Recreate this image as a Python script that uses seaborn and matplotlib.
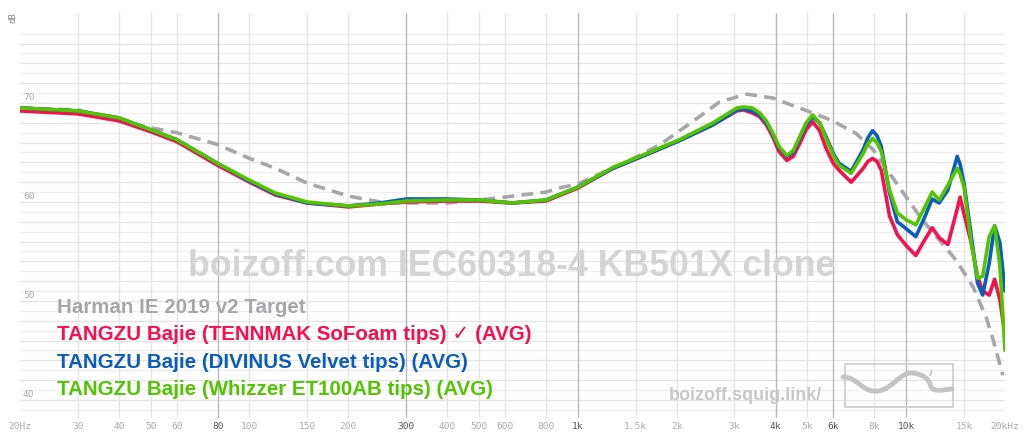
import numpy as np
import pandas as pd
import matplotlib
matplotlib.use("Agg")
import matplotlib.pyplot as plt
import seaborn as sns
from matplotlib.path import Path
from matplotlib.patches import PathPatch, Rectangle
from matplotlib.ticker import NullLocator
import matplotlib.transforms as mtransforms

# ---------------- data ----------------
target_freq = [20, 30, 40, 50, 60, 80, 100, 120, 150, 200, 250, 300, 400, 500, 600, 800, 900,
               1000, 1090, 1440, 1780, 2210, 2700, 3270, 3920, 5190, 5970, 7050, 7920, 8900,
               10000, 11200, 12600, 14200, 16000, 17500, 18400, 19700]
target_db = [69.5, 69.3, 68.2, 67.5, 67.0, 65.8, 64.4, 63.4, 61.9, 60.6, 60.0, 59.9, 59.9, 60.2,
             60.5, 61.0, 61.5, 61.8, 62.4, 64.2, 65.8, 68.0, 70.1, 70.9, 70.5, 69.0, 68.2, 66.9,
             65.3, 62.9, 60.5, 58.2, 56.2, 54.1, 51.4, 48.4, 46.1, 42.5]

freq = [20, 30, 40, 50, 60, 80, 100, 120, 150, 200, 250, 300, 400, 500, 630, 800, 1000, 1280,
        1620, 2040, 2580, 3050, 3200, 3400, 3580, 3750, 3920, 4100, 4330, 4530, 4740, 4960,
        5190, 5450, 5720, 6000, 6250, 6800, 7400, 7650, 7900, 8150, 8400, 8900, 9400, 10000,
        10700, 11400, 12000, 12600, 13400, 14300, 14600, 15000, 15800, 16500, 17100, 17900,
        18600, 19300, 20000]

red_db = [69.2, 68.9, 68.2, 67.1, 66.1, 63.7, 62.0, 60.7, 59.9, 59.5, 59.8, 60.0, 60.1, 60.1,
          59.9, 60.1, 61.4, 63.4, 64.8, 66.2, 67.8, 69.2, 69.3, 69.0, 68.6, 67.8, 66.6, 65.1,
          64.2, 64.6, 65.9, 67.3, 68.1, 67.2, 65.3, 63.9, 63.2, 62.0, 63.4, 64.1, 64.4, 64.1,
          63.2, 58.6, 56.7, 55.6, 54.6, 56.2, 57.4, 56.4, 55.7, 59.3, 60.5, 58.8, 55.8, 52.5,
          51.0, 50.6, 52.2, 50.1, 46.5]

blue_db = [69.5, 69.2, 68.5, 67.3, 66.3, 63.9, 62.1, 60.8, 59.9, 59.6, 59.9, 60.3, 60.3, 60.2,
           59.9, 60.2, 61.5, 63.4, 64.8, 66.2, 67.8, 69.3, 69.4, 69.2, 68.8, 68.0, 66.9, 65.5,
           64.6, 65.0, 66.4, 67.8, 68.6, 68.0, 66.5, 64.9, 63.9, 63.1, 65.3, 66.5, 67.2, 66.7,
           65.6, 60.9, 58.0, 57.3, 56.5, 58.5, 60.3, 59.9, 61.2, 64.6, 63.8, 61.9, 56.5, 51.8,
           50.6, 53.8, 57.6, 55.9, 51.0]

green_db = [69.5, 69.2, 68.5, 67.3, 66.3, 63.9, 62.2, 60.9, 60.0, 59.6, 59.8, 60.1, 60.2, 60.2,
            59.9, 60.2, 61.5, 63.5, 64.9, 66.3, 68.0, 69.5, 69.6, 69.5, 69.0, 68.2, 67.0, 65.6,
            64.7, 65.2, 66.6, 68.0, 68.8, 68.0, 66.3, 64.7, 63.7, 62.9, 64.9, 65.9, 66.4, 66.0,
            65.1, 61.2, 58.9, 58.2, 57.7, 59.5, 61.0, 60.2, 61.7, 63.4, 62.8, 61.5, 55.8, 52.3,
            52.5, 56.5, 57.6, 53.5, 45.0]

tick_freqs = [20, 30, 40, 50, 60, 80, 100, 150, 200, 300, 400, 500, 600, 800, 1000, 1500,
              2000, 3000, 4000, 5000, 6000, 8000, 10000, 15000, 20000]
tick_labels = ["20Hz", "30", "40", "50", "60", "80", "100", "150", "200", "300", "400", "500",
               "600", "800", "1k", "1.5k", "2k", "3k", "4k", "5k", "6k", "8k", "10k", "15k", "20kHz"]
strong_ticks = [80, 300, 1000, 4000, 6000, 10000]
y_labels = [40, 50, 60, 70]

legend_names = ["Harman IE 2019 v2 Target",
                "TANGZU Bajie (TENNMAK SoFoam tips) \u2713 (AVG)",
                "TANGZU Bajie (DIVINUS Velvet tips) (AVG)",
                "TANGZU Bajie (Whizzer ET100AB tips) (AVG)"]
colors = ["#a9a5ad", "#f5104f", "#0a5cbe", "#52c500"]

# ---------------- figure ----------------
sns.set_theme(style="white")
plt.rcParams["font.family"] = ["Liberation Sans", "DejaVu Sans"]

W, H = 1024, 443
fig = plt.figure(figsize=(W / 100, H / 100), dpi=100)
fig.patch.set_facecolor("white")
ax = fig.add_axes([20 / W, (H - 418) / H, 985 / W, 405 / H])
ax.set_facecolor("white")
ax.set_xscale("log")
ax.set_xlim(20, 20000)
ax.set_ylim(38.18, 79.09)
for s in ax.spines.values():
    s.set_visible(False)

# grid
for v in range(39, 78):
    ax.axhline(v, color="#e4e4e4" if v % 2 == 0 else "#efefef", lw=0.9, zorder=0)
for f in tick_freqs[1:-1]:
    ax.axvline(f, color="#b8b8b8" if f in strong_ticks else "#e4e4e4", lw=1.0, zorder=0)

# curves
df_t = pd.DataFrame({"f": target_freq, "db": target_db})
sns.lineplot(data=df_t, x="f", y="db", ax=ax, color=colors[0], lw=2.6,
             linestyle=(0, (3.3, 2.0)), zorder=2, estimator=None, sort=False)
for vals, c, z in [(red_db, colors[1], 3), (blue_db, colors[2], 4), (green_db, colors[3], 5)]:
    d = pd.DataFrame({"f": freq, "db": vals})
    sns.lineplot(data=d, x="f", y="db", ax=ax, color=c, lw=2.6, zorder=z,
                 estimator=None, sort=False)

ax.set_xlabel("")
ax.set_ylabel("")
ax.set_yticks([])
ax.set_xticks(tick_freqs)
ax.set_xticklabels(tick_labels)
ax.xaxis.set_minor_locator(NullLocator())
ax.tick_params(axis="x", length=0, pad=3, labelsize=6.8, labelcolor="#ababab")
for lab, f in zip(ax.get_xticklabels(), tick_freqs):
    lab.set_fontfamily("DejaVu Sans Mono")
    if f in strong_ticks:
        lab.set_color("#555555")

# y labels inside
blend = mtransforms.blended_transform_factory(ax.transAxes, ax.transData)
for v in y_labels:
    ax.text(0.003, v + 0.1, str(v), transform=blend, fontsize=6.8, color="#ababab",
            family="DejaVu Sans Mono", ha="left", va="bottom")
fig.text(13 / W, 1 - 18 / H, "dB", rotation=90, fontsize=6.5, color="#888888",
         family="DejaVu Sans Mono", ha="center", va="center")

# watermark
fig.text(512 / W, 1 - 266 / H, "boizoff.com IEC60318-4 KB501X clone", fontsize=25.7,
         fontweight="bold", color="#d4d4d4", ha="center", va="center", zorder=1)
fig.text(745 / W, 1 - 396 / H, "boizoff.squig.link/", fontsize=13, fontweight="bold",
         color="#c9c9c9", ha="center", va="center")

# logo
def P(x, y):
    return (x / W, 1 - y / H)

rect = Rectangle(P(845, 407), 108 / W, 43 / H, transform=fig.transFigure, fill=False,
                 ec="#cfcfcf", lw=1.3)
fig.add_artist(rect)
verts = [P(843, 377), P(858, 377), P(862, 393), P(878, 391),
         P(893, 389), P(900, 372), P(912, 373),
         P(922, 374), P(928, 378), P(930, 384),
         P(932, 393), P(940, 390), P(952, 389)]
codes = [Path.MOVETO, Path.CURVE4, Path.CURVE4, Path.CURVE4,
         Path.CURVE4, Path.CURVE4, Path.CURVE4,
         Path.CURVE4, Path.CURVE4, Path.CURVE4,
         Path.CURVE4, Path.CURVE4, Path.CURVE4]
fig.add_artist(PathPatch(Path(verts, codes), transform=fig.transFigure, fill=False,
                         ec="#c4c4c4", lw=3.5, capstyle="round"))
fig.add_artist(PathPatch(Path([P(930, 376), P(932, 370)], [Path.MOVETO, Path.LINETO]),
                         transform=fig.transFigure, fill=False, ec="#c4c4c4", lw=1.2))

# legend text
for i, (name, c) in enumerate(zip(legend_names, colors)):
    fig.text(57 / W, 1 - (307.5 + 27.4 * i) / H, name, fontsize=14.8, fontweight="bold",
             color=c, ha="left", va="center", family=["Liberation Sans", "DejaVu Sans"])

fig.savefig("out.png", dpi=100, facecolor="white")
